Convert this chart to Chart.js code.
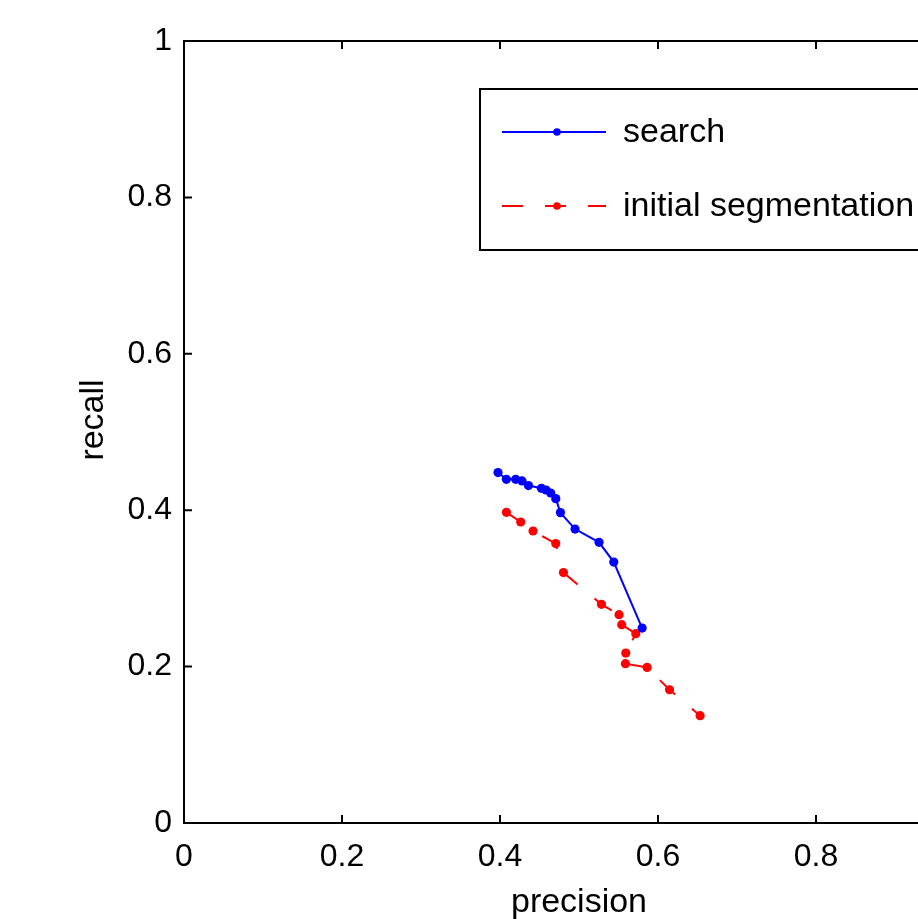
<!DOCTYPE html>
<html>
<head>
<meta charset="utf-8">
<script src="https://cdn.jsdelivr.net/npm/chart.js@4.4.0/dist/chart.umd.min.js"></script>
<style>
  html, body { margin: 0; padding: 0; background: #fff; overflow: hidden; }
  #wrap { width: 1000px; height: 919px; }
</style>
</head>
<body>
<div id="wrap"><canvas id="c" width="1000" height="919"></canvas></div>
<script>
// ---- data ----
const searchPrecision = [0.3975, 0.4081, 0.4199, 0.4279, 0.4360, 0.4524, 0.4583, 0.4642, 0.4706, 0.4765, 0.4950, 0.5254, 0.5440, 0.5799];
const searchRecall    = [0.4481, 0.4395, 0.4395, 0.4374, 0.4315, 0.4280, 0.4258, 0.4220, 0.4148, 0.3969, 0.3759, 0.3589, 0.3337, 0.2493];
const initPrecision = [0.4081, 0.4262, 0.4418, 0.4706, 0.4803, 0.5284, 0.5507, 0.5541, 0.5719, 0.5592, 0.5588, 0.5862, 0.6146, 0.6533];
const initRecall    = [0.3973, 0.3849, 0.3734, 0.3573, 0.3202, 0.2796, 0.2664, 0.2536, 0.2421, 0.2173, 0.2037, 0.1990, 0.1704, 0.1372];
const xTicks = [0, 0.2, 0.4, 0.6, 0.8, 1];
const yTicks = [0, 0.2, 0.4, 0.6, 0.8, 1];
const seriesNames = ['search', 'initial segmentation'];
const xTitle = 'precision';
const yTitle = 'recall';

const FONT = '"Liberation Sans", Arial, Helvetica, sans-serif';

function pts(xs, ys) { return xs.map((x, i) => ({ x: x, y: ys[i] })); }

const boxPlugin = {
  id: 'matlabBox',
  afterDraw(chart) {
    const ctx = chart.ctx;
    const a = chart.chartArea;
    const xs = chart.scales.x, ys = chart.scales.y;
    ctx.save();
    ctx.strokeStyle = '#000';
    ctx.lineWidth = 2;
    ctx.strokeRect(a.left, a.top, a.right - a.left, a.bottom - a.top);
    const tl = 8;
    ctx.beginPath();
    xTicks.forEach(v => {
      const px = xs.getPixelForValue(v);
      ctx.moveTo(px, a.bottom); ctx.lineTo(px, a.bottom - tl);
      ctx.moveTo(px, a.top); ctx.lineTo(px, a.top + tl);
    });
    yTicks.forEach(v => {
      const py = ys.getPixelForValue(v);
      ctx.moveTo(a.left, py); ctx.lineTo(a.left + tl, py);
      ctx.moveTo(a.right, py); ctx.lineTo(a.right - tl, py);
    });
    ctx.stroke();

    // y-axis title (MATLAB places it slightly above the axis centre)
    ctx.save();
    ctx.translate(103, (a.top + a.bottom) / 2 - 12);
    ctx.rotate(-Math.PI / 2);
    ctx.fillStyle = '#000';
    ctx.font = '34px ' + FONT;
    ctx.textAlign = 'center';
    ctx.textBaseline = 'alphabetic';
    ctx.fillText(yTitle, 0, 0);
    ctx.restore();

    // legend box
    const lx = a.left + 296, ly = a.top + 48, lw = 460, lh = 161;
    ctx.fillStyle = '#fff';
    ctx.fillRect(lx, ly, lw, lh);
    ctx.lineWidth = 2;
    ctx.strokeRect(lx, ly, lw, lh);
    const rowsY = [ly + 43, ly + 117];
    chart.data.datasets.forEach((ds, i) => {
      const y = rowsY[i];
      ctx.save();
      ctx.strokeStyle = ds.borderColor;
      ctx.lineWidth = ds.borderWidth;
      ctx.setLineDash(ds.borderDash || []);
      ctx.beginPath();
      ctx.moveTo(lx + 22, y); ctx.lineTo(lx + 126, y);
      ctx.stroke();
      ctx.setLineDash([]);
      ctx.fillStyle = ds.pointBackgroundColor;
      ctx.beginPath();
      ctx.arc(lx + 77, y, 3.8, 0, Math.PI * 2);
      ctx.fill();
      ctx.restore();
      ctx.fillStyle = '#000';
      ctx.font = '34px ' + FONT;
      ctx.textBaseline = 'middle';
      ctx.textAlign = 'left';
      ctx.fillText(ds.label, lx + 143, y + 1);
    });
    ctx.restore();
  }
};

new Chart(document.getElementById('c'), {
  type: 'scatter',
  data: {
    datasets: [
      {
        label: seriesNames[0],
        data: pts(searchPrecision, searchRecall),
        showLine: true,
        borderColor: '#0000ff',
        backgroundColor: '#0000ff',
        pointBackgroundColor: '#0000ff',
        pointBorderWidth: 0,
        pointRadius: 4.6,
        borderWidth: 2,
        tension: 0
      },
      {
        label: seriesNames[1],
        data: pts(initPrecision, initRecall),
        showLine: true,
        borderColor: '#ff0000',
        backgroundColor: '#ff0000',
        pointBackgroundColor: '#ff0000',
        pointBorderWidth: 0,
        pointRadius: 4.6,
        borderWidth: 2,
        borderDash: [21, 22],
        tension: 0
      }
    ]
  },
  options: {
    responsive: false,
    animation: false,
    layout: { padding: { left: 0, top: 41, right: 26, bottom: 0 } },
    plugins: { legend: { display: false }, tooltip: { enabled: false } },
    scales: {
      x: {
        type: 'linear', min: 0, max: 1,
        afterBuildTicks(s) { s.ticks = xTicks.map(v => ({ value: v })); },
        afterFit(s) { s.height = 96; },
        grid: { display: false, drawTicks: false },
        border: { display: false },
        ticks: { color: '#000', font: { family: FONT, size: 32 }, padding: 15, maxRotation: 0, autoSkip: false,
                 callback: v => String(v) },
        title: { display: true, text: xTitle, color: '#000', font: { family: FONT, size: 34, lineHeight: 1.0 }, padding: { top: 0, bottom: -1 } }
      },
      y: {
        type: 'linear', min: 0, max: 1,
        afterBuildTicks(s) { s.ticks = yTicks.map(v => ({ value: v })); },
        afterFit(s) { s.width = 184; },
        grid: { display: false, drawTicks: false },
        border: { display: false },
        ticks: { color: '#000', font: { family: FONT, size: 32 }, padding: 12, autoSkip: false,
                 callback: v => String(v) },
        title: { display: false, text: yTitle }
      }
    }
  },
  plugins: [boxPlugin]
});
</script>
</body>
</html>
